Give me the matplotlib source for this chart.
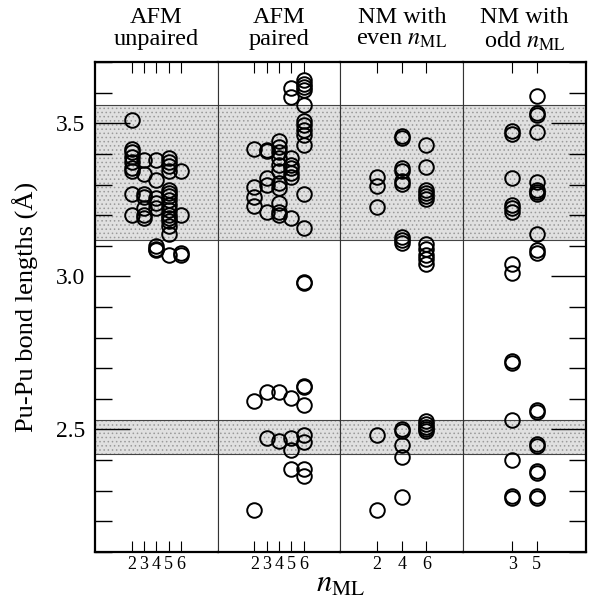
import numpy as np
import matplotlib
matplotlib.use('Agg')
import matplotlib.pyplot as plt
from matplotlib.ticker import MultipleLocator

plt.rcParams['font.family'] = ['Liberation Serif', 'DejaVu Serif']
plt.rcParams['mathtext.fontset'] = 'stix'
plt.rcParams['hatch.linewidth'] = 0.6
plt.rcParams['hatch.color'] = '#9a9a9a'

# panel titles and x ticks
titles = ['AFM\nunpaired', 'AFM\npaired',
          'NM with\neven $\\mathit{n}_{\\rm ML}$', 'NM with\nodd $\\mathit{n}_{\\rm ML}$']
xticks = [[2, 3, 4, 5, 6], [2, 3, 4, 5, 6], [2, 4, 6], [3, 5]]

# bond lengths (A) per panel, keyed by n_ML
afm_unpaired = {
    2: [3.51, 3.415, 3.405, 3.39, 3.375, 3.355, 3.343, 3.27, 3.20],
    3: [3.38, 3.334, 3.27, 3.258, 3.223, 3.20, 3.189],
    4: [3.38, 3.314, 3.256, 3.239, 3.223, 3.098, 3.09, 3.087],
    5: [3.386, 3.375, 3.36, 3.343, 3.283, 3.272, 3.261, 3.25, 3.234,
        3.218, 3.202, 3.191, 3.18, 3.163, 3.138, 3.071],
    6: [3.343, 3.20, 3.075, 3.07],
}
afm_paired = {
    2: [3.417, 3.291, 3.258, 3.229, 2.591, 2.238],
    3: [3.413, 3.408, 3.321, 3.299, 3.21, 2.621, 2.472],
    4: [3.443, 3.424, 3.406, 3.386, 3.364, 3.343, 3.305, 3.288, 3.239,
        3.21, 3.199, 2.621, 2.461],
    5: [3.614, 3.587, 3.386, 3.364, 3.353, 3.337, 3.326, 3.191,
        2.602, 2.472, 2.433, 2.371],
    6: [3.641, 3.63, 3.62, 3.609, 3.56, 3.506, 3.495, 3.478, 3.462, 3.43,
        3.269, 3.158, 2.981, 2.977, 2.643, 2.637, 2.579, 2.483, 2.46, 2.371, 2.349],
}
nm_even = {
    2: [3.326, 3.294, 3.225, 2.48, 2.238],
    4: [3.46, 3.453, 3.353, 3.343, 3.312, 3.301, 3.128, 3.119, 3.11,
        2.501, 2.496, 2.45, 2.409, 2.278],
    6: [3.43, 3.358, 3.283, 3.272, 3.261, 3.254, 3.104, 3.088, 3.071,
        3.055, 3.039, 2.526, 2.518, 2.509, 2.50, 2.494],
}
nm_odd = {
    3: [3.475, 3.465, 3.321, 3.234, 3.222, 3.21, 3.041, 3.01,
        2.723, 2.717, 2.531, 2.40, 2.281, 2.276],
    5: [3.59, 3.533, 3.527, 3.471, 3.308, 3.283, 3.275, 3.269, 3.138,
        3.085, 3.077, 2.562, 2.556, 2.453, 2.447, 2.363, 2.357, 2.281, 2.276],
}
panels = [afm_unpaired, afm_paired, nm_even, nm_odd]

# shaded ranges
bands = [(3.12, 3.56), (2.42, 2.53)]

fig, axes = plt.subplots(1, 4, sharey=True, figsize=(5.93, 6.03), dpi=100)
fig.subplots_adjust(left=0.160, right=0.988, bottom=0.085, top=0.897, wspace=0)

for i, ax in enumerate(axes):
    for lo, hi in bands:
        ax.axhspan(lo, hi, facecolor='#e0e0e0', hatch='....', edgecolor='#9a9a9a',
                   linewidth=0, zorder=0)
        ax.axhline(lo, color='#444444', lw=0.8, zorder=1)
        ax.axhline(hi, color='#444444', lw=0.8, zorder=1)
    for n, vals in panels[i].items():
        ax.plot([n] * len(vals), vals, 'o', ms=10.5, mfc='none', mec='black',
                mew=1.4, zorder=3)
    ax.set_xlim(-1, 9)
    ax.set_ylim(2.1, 3.7)
    ax.set_xticks(xticks[i])
    ax.set_xticklabels([str(t) for t in xticks[i]], fontsize=13)
    ax.tick_params(axis='x', which='both', direction='in', top=True, length=8,
                   width=0.8, pad=3)
    # titles top-aligned so the subscripted ones line up with the others
    ax.text(0.5, 1.113, titles[i], transform=ax.transAxes, ha='center', va='top',
            fontsize=17.5, linespacing=1.08)
    for side in ['left', 'right']:
        ax.spines[side].set_linewidth(0.8)
        ax.spines[side].set_color('#333333')
    ax.spines['top'].set_linewidth(1.6)
    ax.spines['bottom'].set_linewidth(1.6)
    if i == 0:
        ax.spines['left'].set_linewidth(1.6)
        ax.spines['left'].set_color('black')
        ax.tick_params(axis='y', which='both', direction='in', left=True, right=False)
    elif i == 3:
        ax.spines['right'].set_linewidth(1.6)
        ax.spines['right'].set_color('black')
        ax.tick_params(axis='y', which='both', direction='in', left=False, right=True,
                       labelleft=False)
    else:
        ax.tick_params(axis='y', which='both', left=False, right=False, labelleft=False)

axes[0].yaxis.set_major_locator(MultipleLocator(0.5))
axes[0].yaxis.set_minor_locator(MultipleLocator(0.1))
for ax in (axes[0], axes[3]):
    ax.tick_params(axis='y', which='major', length=25, width=1.0)
    ax.tick_params(axis='y', which='minor', length=12, width=1.0)
axes[0].tick_params(axis='y', which='major', labelsize=17, pad=7, labelleft=True)
axes[0].yaxis.set_major_formatter(matplotlib.ticker.FormatStrFormatter('%.1f'))
axes[0].set_ylabel('Pu-Pu bond lengths (Å)', fontsize=19, labelpad=12)

fig.text(0.574, 0.018, '$\\mathit{n}_{\\rm ML}$', fontsize=22, ha='center')

fig.savefig('out.png', dpi=100)
